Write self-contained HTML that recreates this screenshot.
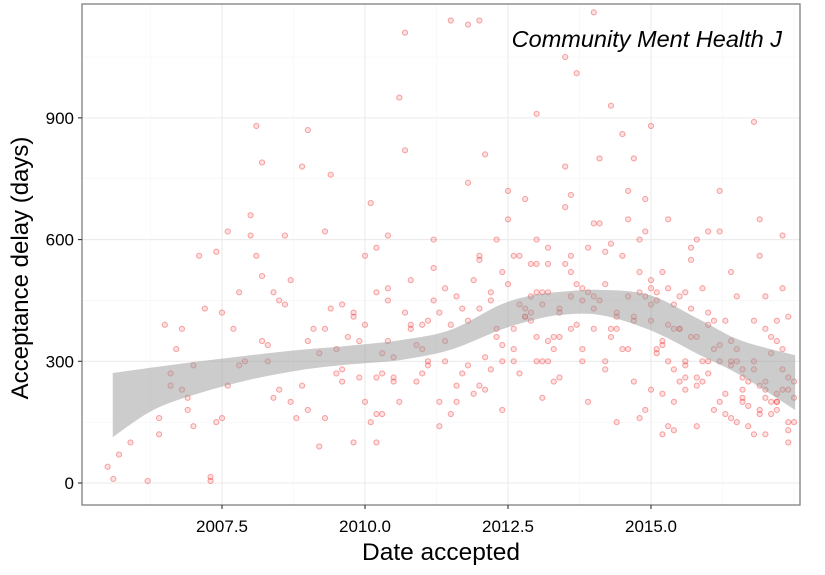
<!DOCTYPE html>
<html><head><meta charset="utf-8"><style>
body{margin:0;background:#fff;font-family:"Liberation Sans",sans-serif}
svg text{font-family:"Liberation Sans",sans-serif}
</style></head><body>
<svg id="chart" width="825" height="570" viewBox="0 0 825 570"></svg>
<script>
const xTicks=[2007.5,2010.0,2012.5,2015.0];
const xTickLabels=["2007.5","2010.0","2012.5","2015.0"];
const yTicks=[0,300,600,900];
const yTickLabels=["0","300","600","900"];
const ribbonX=[2005.59,2006.3,2007.12,2008.0,2008.86,2009.7,2010.61,2011.49,2012.36,2012.9,2013.41,2014.11,2014.98,2015.86,2016.56,2017.52];
const ribbonUpper=[271,285,300,315,328,338,352,377,439,462,471,476,463,402,352,315];
const ribbonLower=[113,180,222,255,278,292,303,328,377,400,414,414,377,315,266,180];
const ptX=[2005.5,2005.6,2005.7,2005.9,2006.2,2006.4,2006.6,2006.8,2006.9,2007.1,2007.3,2007.4,2007.5,2007.6,2007.8,2008.0,2008.1,2008.2,2008.3,2008.4,2008.5,2008.6,2008.7,2008.9,2009.0,2009.1,2009.2,2009.3,2009.5,2009.6,2009.7,2009.8,2009.9,2010.0,
2006.5,2006.7,2006.9,2007.0,2007.2,2007.4,2007.6,2007.7,2007.9,2008.1,2008.2,2008.4,2008.6,2008.8,2009.0,2009.2,2009.4,2009.6,2009.8,2010.0,2010.1,2010.2,2010.3,
2006.4,2006.6,2006.8,2007.0,2007.3,2007.5,2007.8,2008.0,2008.3,2008.5,2008.7,2009.0,2009.3,2009.5,2009.8,2010.0,2010.2,2010.4,
2010.1,2010.2,2010.3,2010.4,2010.5,2010.6,2010.7,2010.8,2010.9,2011.0,2011.1,2011.2,2011.3,2011.4,2011.5,2011.6,2011.7,2011.8,2011.9,2012.0,
2010.2,2010.4,2010.6,2010.8,2011.0,2011.2,2011.4,2011.6,2011.8,2012.0,2012.1,2012.2,2012.3,2012.4,2012.5,2012.6,2012.7,2012.8,2012.9,
2010.3,2010.5,2010.7,2010.9,2011.1,2011.3,2011.5,2011.7,2011.9,2012.1,2012.3,2012.5,2012.7,2012.9,2013.0,2013.1,2013.2,
2012.0,2012.2,2012.4,2012.6,2012.8,2013.0,2013.1,2013.2,2013.3,2013.4,2013.5,2013.6,2013.7,2013.8,2013.9,2014.0,2014.1,2014.2,2014.3,2014.4,
2012.1,2012.3,2012.5,2012.7,2012.9,2013.1,2013.3,2013.5,2013.7,2013.9,2014.1,2014.3,2014.5,2014.6,2014.7,2014.8,2014.9,2015.0,
2013.0,2013.2,2013.4,2013.6,2013.8,2014.0,2014.2,2014.4,2014.6,2014.8,2015.0,2015.1,2015.2,2015.3,2015.4,2015.5,2015.6,2015.7,
2014.5,2014.7,2014.9,2015.0,2015.1,2015.2,2015.3,2015.4,2015.5,2015.6,2015.7,2015.8,2015.9,2016.0,2016.1,2016.2,2016.3,2016.4,2016.5,2016.6,
2014.9,2015.0,2015.1,2015.2,2015.3,2015.4,2015.5,2015.6,2015.7,2015.8,2015.9,2016.0,2016.1,2016.2,2016.3,2016.4,2016.5,2016.6,2016.7,2016.8,
2016.9,2017.0,2017.1,2017.2,2017.3,2017.4,2017.5,2016.9,2017.0,2017.1,2017.2,2017.3,2017.4,2017.5,2016.8,2017.0,2017.2,2017.4,
2011.5,2012.0,2013.0,2013.5,2014.3,2010.7,2011.8,2012.9,2013.6,2014.0,2016.0,2016.2,2016.4,2014.7,2015.3,2015.8,2017.3,2008.2,2008.9,2009.3,2010.2,2010.4,
2012.4,2012.6,2012.8,2013.0,2013.2,2013.4,2013.6,2013.8,2014.0,2014.2,2014.4,2014.6,2014.8,2015.0,2015.2,2015.4,2015.6,2015.8,2016.0,2016.2,
2016.4,2016.6,2016.8,2017.0,2017.2,2017.4,2016.5,2016.7,2016.9,2017.1,2017.3,2017.5,2016.6,2016.8,2017.0,2017.2,2017.4,2016.9,2017.1,2017.3,
2011.0,2011.2,2011.4,2011.6,2011.8,2012.0,2012.2,2012.4,2012.6,2012.8,2013.0,2013.2,2013.4,2013.6,2013.8,2014.0,2014.2,2014.4,2014.6,2014.8,
2015.0,2015.2,2015.4,2015.6,2015.8,2016.0,2016.2,2016.4,2016.6,2016.8,2017.0,2017.2,2017.4,2009.4,2009.6,2009.9,2010.5,2010.8,2011.1,2011.3,
2013.1,2013.3,2013.5,2013.7,2013.9,2014.1,2014.3,2014.5,2014.7,2014.9,2015.1,2015.3,2015.5,2015.7,2015.9,2016.1,2016.3,2016.5,2016.7,2016.9];
const ptY=[40,10,70,100,5,120,270,380,210,560,15,150,420,240,470,610,560,350,300,470,230,440,200,240,350,380,90,160,330,250,360,100,260,560,
390,330,180,290,430,570,620,380,300,880,510,210,610,160,870,320,760,440,410,390,690,580,270,
160,240,230,140,5,160,290,660,340,450,500,180,620,270,420,200,470,350,
150,260,320,480,260,200,420,500,250,330,290,530,200,300,170,460,430,290,220,550,
100,450,950,380,270,600,480,200,740,240,310,450,380,180,650,330,560,410,460,
170,250,820,340,400,140,390,270,500,810,360,720,440,540,470,300,580,
430,280,300,560,700,300,440,350,250,420,680,560,1010,330,470,380,800,300,590,420,
230,600,490,270,420,210,360,780,490,200,640,360,560,720,250,470,180,500,
540,300,260,710,480,640,570,150,330,160,400,470,340,300,280,380,230,430,
860,400,620,880,330,220,480,130,460,260,580,360,250,300,400,620,170,520,300,210,
700,230,450,120,650,200,380,290,550,140,480,270,330,200,400,160,460,260,140,300,
560,120,320,180,280,230,210,650,460,360,200,480,100,250,890,250,200,130,
1140,1140,910,1050,930,1110,1130,400,460,1160,620,720,290,800,140,600,610,790,780,380,170,610,
520,380,430,600,470,360,520,450,430,490,380,460,600,440,520,380,470,240,420,300,
350,230,400,380,220,260,150,190,240,170,330,150,280,120,210,350,410,180,200,230,
390,450,350,240,400,560,470,340,300,410,360,540,430,380,300,460,280,410,650,520,
480,350,440,300,260,390,340,300,200,280,230,400,150,430,280,350,310,390,300,420,
470,330,540,390,580,450,380,330,410,460,320,390,250,360,300,180,220,330,250,170];
const svgNS="http://www.w3.org/2000/svg";
const svg=document.getElementById('chart');
const L=82,R=800,T=4,B=505;
const xs=v=>222+(v-2007.5)*57.2;
const ys=v=>483-v*0.4057;
function mk(tag,attrs,parent){const e=document.createElementNS(svgNS,tag);for(const k in attrs)e.setAttribute(k,attrs[k]);(parent||svg).appendChild(e);return e;}
const panel=mk('rect',{x:L,y:T,width:R-L,height:B-T,fill:'#fff'});


const grid=mk('g',{});


for(let i=0;i<xTicks.length;i++){mk('line',{x1:xs(xTicks[i]),x2:xs(xTicks[i]),y1:T,y2:B,stroke:'#ebebeb','stroke-width':1.1},grid);}
for(let v=2006.25;v<2018;v+=1.25){if(xs(v)>L&&xs(v)<R&&!xTicks.includes(v))mk('line',{x1:xs(v),x2:xs(v),y1:T,y2:B,stroke:'#f5f5f5','stroke-width':0.6},grid);}
for(let i=0;i<yTicks.length;i++){mk('line',{x1:L,x2:R,y1:ys(yTicks[i]),y2:ys(yTicks[i]),stroke:'#ebebeb','stroke-width':1.1},grid);}
for(let v=150;v<1200;v+=300){mk('line',{x1:L,x2:R,y1:ys(v),y2:ys(v),stroke:'#f5f5f5','stroke-width':0.6},grid);}
const pts=mk('g',{});


for(let i=0;i<ptX.length;i++){
 const c=mk('circle',{cx:xs(ptX[i]),cy:ys(ptY[i]),r:2.6,fill:'rgba(248,0,0,0.12)',stroke:'rgba(235,30,30,0.38)','stroke-width':1},pts);
 
 
}
function smooth(px,py){let s='';for(let i=0;i<px.length;i++){if(i===0){s+=px[i]+','+py[i];continue;}const p0=[px[Math.max(i-2,0)],py[Math.max(i-2,0)]],p1=[px[i-1],py[i-1]],p2=[px[i],py[i]],p3=[px[Math.min(i+1,px.length-1)],py[Math.min(i+1,px.length-1)]];s+=' C'+(p1[0]+(p2[0]-p0[0])/6)+','+(p1[1]+(p2[1]-p0[1])/6)+' '+(p2[0]-(p3[0]-p1[0])/6)+','+(p2[1]-(p3[1]-p1[1])/6)+' '+p2[0]+','+p2[1];}return s;}
const ux=ribbonX.map(xs),uy=ribbonUpper.map(ys),lx=ribbonX.map(xs).reverse(),ly=ribbonLower.map(ys).reverse();
const d='M'+smooth(ux,uy)+' L'+smooth(lx,ly)+' Z';
const rib=mk('path',{d:d,fill:'rgba(153,153,153,0.5)'});


mk('rect',{x:L,y:T,width:R-L,height:B-T,fill:'none',stroke:'#7f7f7f','stroke-width':1.3});
for(let i=0;i<xTicks.length;i++){
 mk('line',{x1:xs(xTicks[i]),x2:xs(xTicks[i]),y1:B,y2:B+4,stroke:'#333','stroke-width':1.1});
 const t=mk('text',{x:xs(xTicks[i]),y:532,'text-anchor':'middle','font-size':17,fill:'#000'});
 t.textContent=xTickLabels[i];
 
 
}
for(let i=0;i<yTicks.length;i++){
 mk('line',{x1:L-4,x2:L,y1:ys(yTicks[i]),y2:ys(yTicks[i]),stroke:'#333','stroke-width':1.1});
 const t=mk('text',{x:L-8,y:ys(yTicks[i])+6,'text-anchor':'end','font-size':17,fill:'#000'});
 t.textContent=yTickLabels[i];
 
 
}
const xt=mk('text',{x:441,y:560,'text-anchor':'middle','font-size':24.5,fill:'#000'});
xt.textContent='Date accepted';


const yt=mk('text',{x:0,y:0,'text-anchor':'middle','font-size':24,fill:'#000',transform:'translate(28,268) rotate(-90)'});
yt.textContent='Acceptance delay (days)';


const lab=mk('text',{x:782,y:47,'text-anchor':'end','font-size':23.5,'font-style':'italic',fill:'#000'});
lab.textContent='Community Ment Health J';


</script>
</body></html>
